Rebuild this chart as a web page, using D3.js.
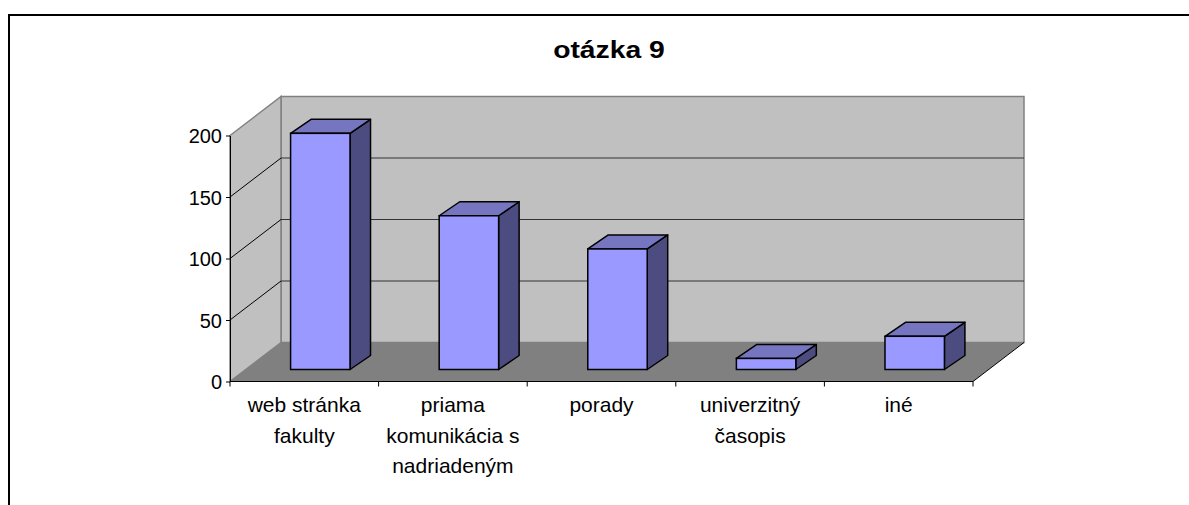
<!DOCTYPE html>
<html>
<head>
<meta charset="utf-8">
<script src="https://cdn.jsdelivr.net/npm/d3@7"></script>
<style>
  html, body { margin: 0; padding: 0; background: #fff; }
  svg { display: block; }
  text { font-family: "Liberation Sans", Arial, sans-serif; }
</style>
</head>
<body>
<svg id="chart" width="1189" height="505"></svg>
<script>
const title = "otázka 9";
const categories = ["web stránka fakulty", "priama komunikácia s nadriadeným", "porady", "univerzitný časopis", "iné"];
const categoryLines = [["web stránka", "fakulty"], ["priama", "komunikácia s", "nadriadeným"], ["porady"], ["univerzitný", "časopis"], ["iné"]];
const values = [192, 125, 98, 9, 27];
const yTicks = [0, 50, 100, 150, 200];

const svg = d3.select("#chart");

// frame
svg.append("path").attr("d", "M9,506V15H1190").attr("fill", "none").attr("stroke", "#000").attr("stroke-width", 2);

// title
svg.append("text").attr("transform", "translate(609,58) scale(1.18,1)").attr("text-anchor", "middle")
  .attr("font-size", 24).attr("font-weight", "bold").text(title);

const x = d3.scaleBand().domain(categories).range([230, 973]).paddingInner(0).paddingOuter(0);
const y = d3.scaleLinear().domain([0, 200]).range([381.5, 135.5]);
const DX = 51, DY = -39;          // depth of the plot box
const BX = 16, BY = -12;          // bar front plane offset
const TX = 20.5, TY = -14;        // bar depth

const x0 = x.range()[0], x1 = x.range()[1];

// back wall
svg.append("rect").attr("x", x0 + DX).attr("y", y(200) + DY)
  .attr("width", x1 - x0).attr("height", y(0) - y(200))
  .attr("fill", "#c0c0c0").attr("stroke", "#808080").attr("stroke-width", 1.5);

// left wall
svg.append("polygon")
  .attr("points", [[x0, y(0)], [x0, y(200)], [x0 + DX, y(200) + DY], [x0 + DX, y(0) + DY]].map(p => p.join(",")).join(" "))
  .attr("fill", "#c0c0c0").attr("stroke", "#808080").attr("stroke-width", 1.5);

// floor
svg.append("polygon")
  .attr("points", [[x0, y(0)], [x1, y(0)], [x1 + DX, y(0) + DY], [x0 + DX, y(0) + DY]].map(p => p.join(",")).join(" "))
  .attr("fill", "#808080");
svg.append("line").attr("x1", x1).attr("y1", y(0)).attr("x2", x1 + DX).attr("y2", y(0) + DY)
  .attr("stroke", "#000").attr("stroke-width", 1);

// gridlines
const grid = yTicks.filter(t => t > 0 && t < 200);
svg.selectAll(".gl").data(grid).enter().append("line")
  .attr("x1", x0).attr("y1", d => y(d)).attr("x2", x0 + DX).attr("y2", d => y(d) + DY)
  .attr("stroke", "#000").attr("stroke-width", 1);
svg.selectAll(".gb").data(grid).enter().append("line")
  .attr("x1", x0 + DX).attr("y1", d => y(d) + DY).attr("x2", x1 + DX).attr("y2", d => y(d) + DY)
  .attr("stroke", "#333").attr("stroke-width", 1.2);

// bars
const bw = x.bandwidth() * 0.4;
const bars = svg.selectAll(".bar").data(values).enter().append("g");
bars.each(function(v, i) {
  const g = d3.select(this);
  const c = categories[i];
  const lx = x(c) + x.bandwidth() / 2 - bw / 2 + BX;
  const rx = lx + bw;
  const by = y(0) + BY;
  const ty = y(v) + BY;
  g.append("polygon").attr("points", [[rx, by], [rx, ty], [rx + TX, ty + TY], [rx + TX, by + TY]].map(p => p.join(",")).join(" "))
    .attr("fill", "#4c4c80").attr("stroke", "#000").attr("stroke-width", 1.5).attr("stroke-linejoin", "round");
  g.append("polygon").attr("points", [[lx, ty], [rx, ty], [rx + TX, ty + TY], [lx + TX, ty + TY]].map(p => p.join(",")).join(" "))
    .attr("fill", "#7676c0").attr("stroke", "#000").attr("stroke-width", 1.5).attr("stroke-linejoin", "round");
  g.append("rect").attr("x", lx).attr("y", ty).attr("width", bw).attr("height", by - ty)
    .attr("fill", "#9999ff").attr("stroke", "#000").attr("stroke-width", 1.5);
});

// y axis
const yAxis = d3.axisLeft(y).tickValues(yTicks).tickSize(4).tickSizeOuter(0).tickPadding(4);
const ya = svg.append("g").attr("transform", `translate(${x0},0)`).call(yAxis);
ya.select(".domain").attr("stroke", "#000");
ya.selectAll(".tick line").attr("stroke", "#000");
ya.selectAll("text").attr("font-size", 20).attr("fill", "#000")
  .attr("font-family", "'Liberation Sans', Arial, sans-serif").attr("dy", "0.35em");

// x axis
const xa = svg.append("g").attr("transform", `translate(0,${y(0)})`);
xa.append("line").attr("x1", x0).attr("x2", x1).attr("stroke", "#000").attr("stroke-width", 1.2);
const bounds = categories.map(c => x(c)).concat([x1]);
xa.selectAll(".xt").data(bounds).enter().append("line")
  .attr("x1", d => d).attr("x2", d => d).attr("y1", 0).attr("y2", 5).attr("stroke", "#000");

const lbl = svg.selectAll(".xl").data(categories).enter().append("text")
  .attr("text-anchor", "middle").attr("font-size", 21).attr("fill", "#000");
lbl.each(function(c, i) {
  const t = d3.select(this);
  categoryLines[i].forEach((line, j) => {
    t.append("tspan").attr("x", x(c) + x.bandwidth() / 2).attr("y", 412 + j * 30.5).text(line);
  });
});
</script>
</body>
</html>
